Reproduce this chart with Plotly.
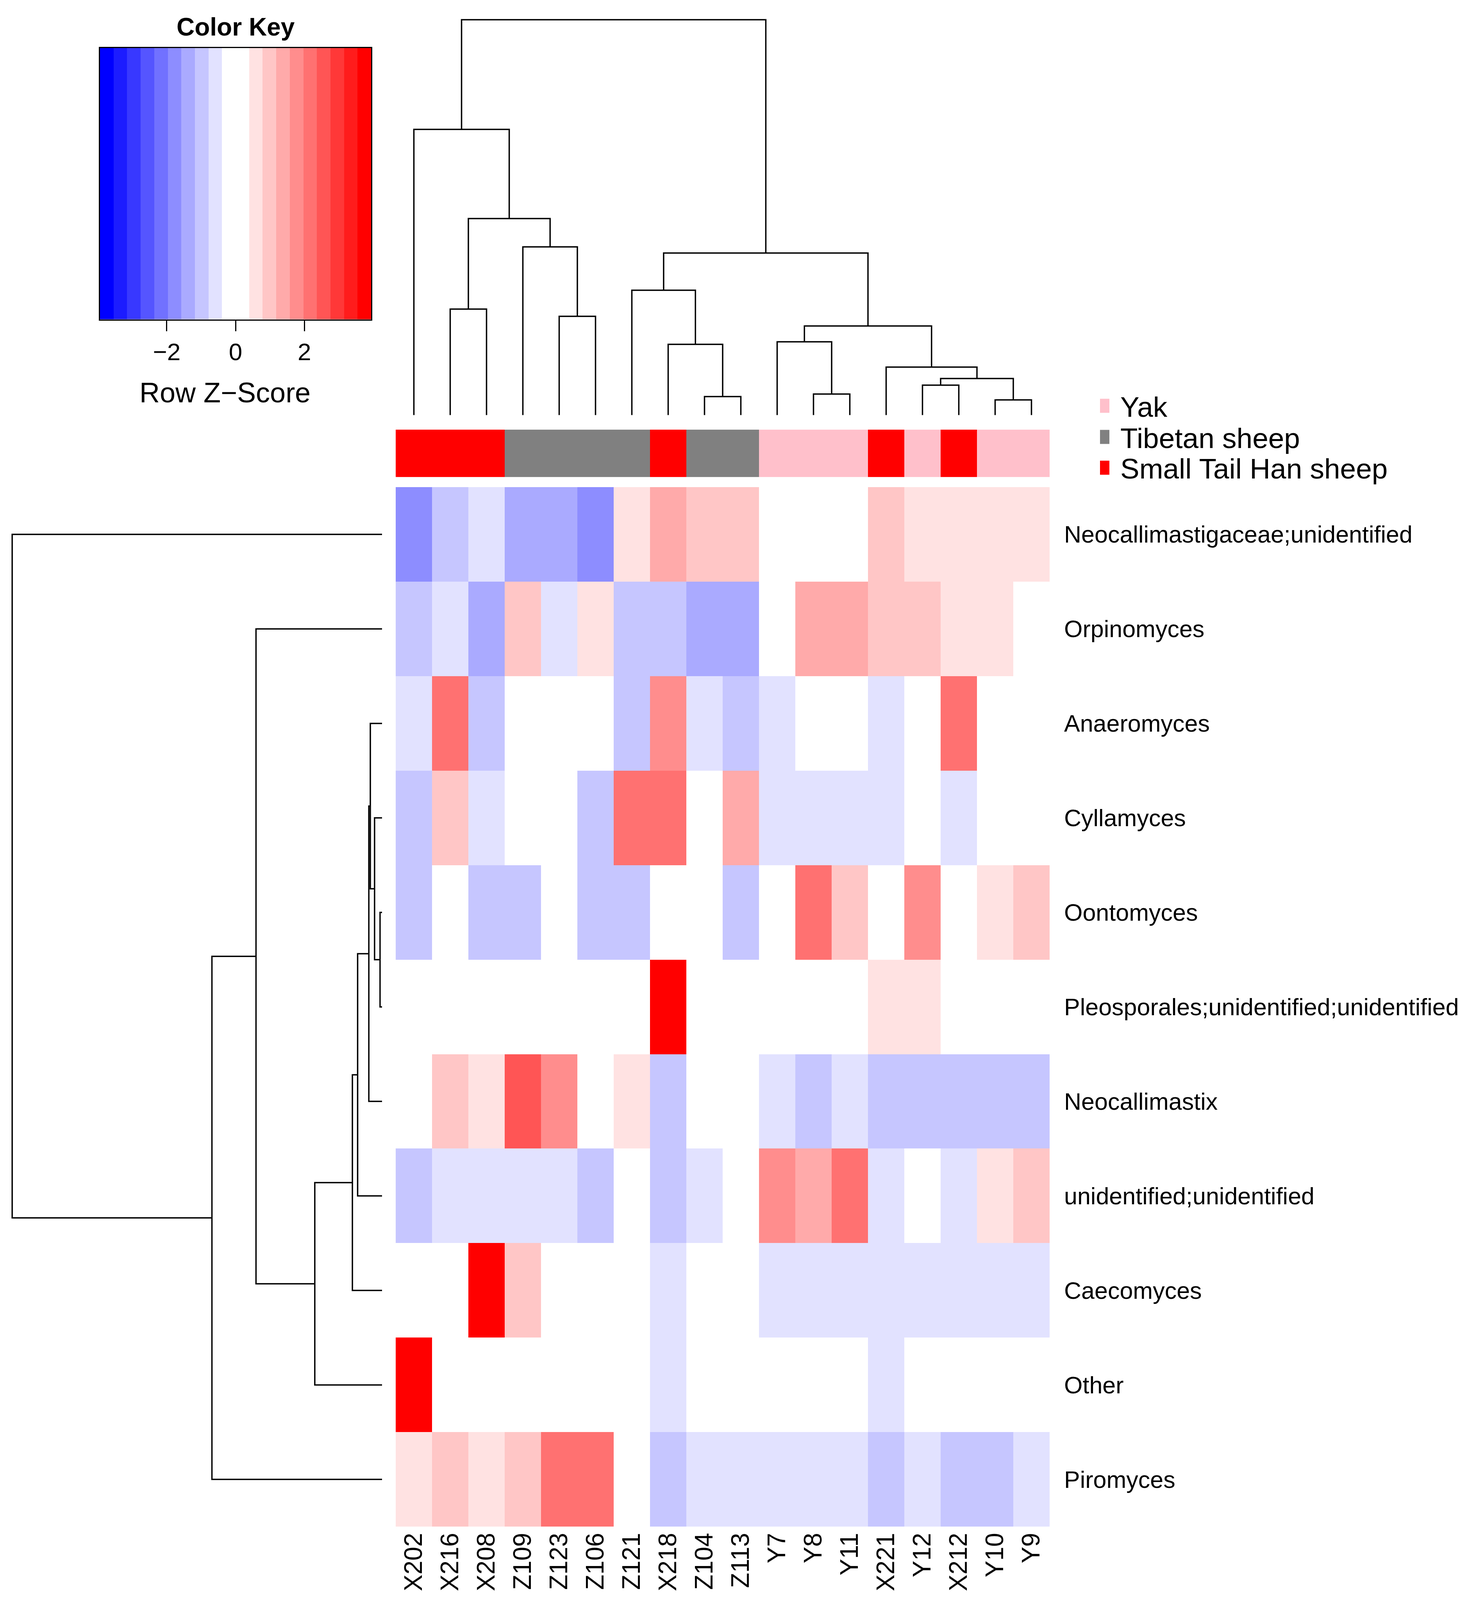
import numpy as np
import plotly.graph_objects as go

# reference geometry (pixels of the 3735 x 4779 reference)
W, REF_H = 3735, 4779
# the browser viewport is capped at 4096 px tall, so the page is laid out at that height
CANVAS_H = 4096
FONT = "Liberation Sans, Arial, Helvetica, sans-serif"

# ---------------- data ----------------
col_names = ["X202", "X216", "X208", "Z109", "Z123", "Z106", "Z121", "X218", "Z104",
             "Z113", "Y7", "Y8", "Y11", "X221", "Y12", "X212", "Y10", "Y9"]
col_groups = ["Small Tail Han sheep", "Small Tail Han sheep", "Small Tail Han sheep",
              "Tibetan sheep", "Tibetan sheep", "Tibetan sheep", "Tibetan sheep",
              "Small Tail Han sheep", "Tibetan sheep", "Tibetan sheep",
              "Yak", "Yak", "Yak", "Small Tail Han sheep", "Yak", "Small Tail Han sheep",
              "Yak", "Yak"]
row_names = ["Neocallimastigaceae;unidentified", "Orpinomyces", "Anaeromyces", "Cyllamyces",
             "Oontomyces", "Pleosporales;unidentified;unidentified", "Neocallimastix",
             "unidentified;unidentified", "Caecomyces", "Other", "Piromyces"]

# row z-scores (rows in display order, columns in display order)
zscores = [
    [-1.75, -0.98, -0.60, -1.38, -1.40, -1.78, 0.55, 1.35, 1.00, 0.98, 0.22, 0.20, 0.21, 0.97, 0.58, 0.60, 0.57, 0.59],
    [-0.95, -0.62, -1.35, 1.02, -0.58, 0.55, -0.99, -0.97, -1.30, -1.33, 0.15, 1.40, 1.38, 1.01, 0.99, 0.60, 0.62, 0.18],
    [-0.62, 2.18, -0.96, -0.10, -0.10, -0.10, -1.00, 1.80, -0.60, -0.98, -0.58, -0.10, -0.10, -0.61, -0.10, 2.20, -0.10, -0.10],
    [-0.98, 0.95, -0.60, -0.20, -0.20, -1.01, 2.15, 2.17, -0.20, 1.36, -0.59, -0.61, -0.60, -0.58, -0.20, -0.62, -0.20, -0.20],
    [-0.99, 0.06, -0.97, -0.96, 0.06, -1.00, -0.98, 0.06, 0.06, -0.99, 0.06, 2.20, 1.02, 0.06, 1.85, 0.06, 0.62, 1.03],
    [-0.33, -0.33, -0.33, -0.33, -0.33, -0.33, -0.33, 3.70, -0.33, -0.33, -0.33, -0.33, -0.33, 0.60, 0.60, -0.33, -0.33, -0.33],
    [-0.09, 1.10, 0.75, 2.70, 1.90, -0.09, 0.75, -0.85, -0.09, -0.09, -0.45, -0.85, -0.45, -0.85, -0.85, -0.85, -0.85, -0.85],
    [-0.98, -0.60, -0.60, -0.60, -0.60, -0.98, 0.07, -1.00, -0.60, 0.07, 1.80, 1.40, 2.20, -0.60, 0.07, -0.60, 0.60, 1.00],
    [0.10, 0.10, 3.70, 1.00, 0.10, 0.10, 0.10, -0.60, 0.10, 0.10, -0.60, -0.60, -0.60, -0.60, -0.60, -0.60, -0.60, -0.60],
    [3.74, -0.17, -0.17, -0.17, -0.17, -0.17, -0.17, -0.59, -0.17, -0.17, -0.17, -0.17, -0.17, -0.59, -0.17, -0.17, -0.17, -0.17],
    [0.65, 1.05, 0.65, 1.05, 2.25, 2.25, -0.25, -0.95, -0.55, -0.55, -0.55, -0.55, -0.55, -0.95, -0.55, -0.95, -0.95, -0.55],
]

# column dendrogram: [merge height, left, right]
col_tree = [1424,
            [1029, "X202",
             [708, [382, "X216", "X208"],
                   [606, "Z109", [356, "Z123", "Z106"]]]],
            [584,
             [450, "Z121", [255, "X218", [67, "Z104", "Z113"]]],
             [321,
              [264, "Y7", [76, "Y8", "Y11"]],
              [173, "X221", [132, [108, "Y12", "X212"], [55, "Y10", "Y9"]]]]]]

# row dendrogram: [merge height, top, bottom]
row_tree = [1485, "Neocallimastigaceae;unidentified",
            [683,
             [506, "Orpinomyces",
              [270,
               [119,
                [98,
                 [53,
                  [47, "Anaeromyces",
                   [30, "Cyllamyces",
                    [8, "Oontomyces", "Pleosporales;unidentified;unidentified"]]],
                  "Neocallimastix"],
                 "unidentified;unidentified"],
                "Caecomyces"],
               "Other"]],
             "Piromyces"]]

group_names = ["Yak", "Tibetan sheep", "Small Tail Han sheep"]
group_colors = ["#FFC0CB", "#808080", "#FF0000"]

key_min, key_max, key_nbins = -3.94, 3.94, 20
key_colors = ["#0000FF", "#1C1CFF", "#3838FF", "#5555FF", "#7171FF", "#8D8DFF", "#AAAAFF",
              "#C6C6FF", "#E2E2FF", "#FFFFFF", "#FFFFFF", "#FFE2E2", "#FFC6C6", "#FFAAAA",
              "#FF8D8D", "#FF7171", "#FF5555", "#FF3838", "#FF1C1C", "#FF0000"]
key_ticks = [-2, 0, 2]


# ---------------- helpers ----------------
def fx(p):
    return p / W


def fy(p):
    return 1 - p / REF_H


def stepped(colors):
    n = len(colors)
    cs = []
    for i, c in enumerate(colors):
        cs.append([i / n, c])
        cs.append([(i + 1) / n, c])
    return cs


def dendro(tree, leaf_pos):
    pos, hgt = [], []

    def rec(node):
        if isinstance(node, str):
            return leaf_pos[node], 0.0
        h, a, b = node
        pa, ha = rec(a)
        pb, hb = rec(b)
        pos.extend([pa, pa, pb, pb, None])
        hgt.extend([ha, h, h, hb, None])
        return (pa + pb) / 2, h

    rec(tree)
    return pos, hgt


heat_cs = stepped(key_colors)
col_idx = list(range(len(col_names)))
row_idx = list(range(len(row_names)))

fig = go.Figure()

# main heatmap
fig.add_trace(go.Heatmap(z=zscores, x=col_idx, y=row_idx, colorscale=heat_cs,
                         zmin=key_min, zmax=key_max, showscale=False,
                         xaxis="x", yaxis="y"))

# column side colours
grp_code = [[group_names.index(g) for g in col_groups]]
fig.add_trace(go.Heatmap(z=grp_code, x=col_idx, y=[0], colorscale=stepped(group_colors),
                         zmin=-0.5, zmax=2.5, showscale=False, xaxis="x", yaxis="y2"))

# column dendrogram
cx, cy = dendro(col_tree, {n: i for i, n in enumerate(col_names)})
fig.add_trace(go.Scatter(x=cx, y=cy, mode="lines", line=dict(color="black", width=3.5),
                         xaxis="x", yaxis="y3", hoverinfo="skip"))

# row dendrogram
ry, rx = dendro(row_tree, {n: i for i, n in enumerate(row_names)})
fig.add_trace(go.Scatter(x=rx, y=ry, mode="lines", line=dict(color="black", width=3.5),
                         xaxis="x2", yaxis="y", hoverinfo="skip"))

# colour key
edges = np.linspace(key_min, key_max, key_nbins + 1)
centers = (edges[:-1] + edges[1:]) / 2
fig.add_trace(go.Heatmap(z=[list(centers)], x=list(centers), y=[0], colorscale=heat_cs,
                         zmin=key_min, zmax=key_max, showscale=False,
                         xaxis="x3", yaxis="y4", hoverinfo="skip"))

hidden = dict(showgrid=False, zeroline=False, showticklabels=False, ticks="", showline=False)

fig.update_layout(
    width=W, height=CANVAS_H, margin=dict(l=0, r=0, t=0, b=0), autosize=False,
    paper_bgcolor="white", plot_bgcolor="white", showlegend=False,
    font=dict(family=FONT, color="black"),
    xaxis=dict(domain=[fx(1013), fx(2687)], range=[-0.5, 17.5], anchor="y",
               tickvals=col_idx, ticktext=col_names, tickangle=-90,
               tickfont=dict(size=64, family=FONT), ticks="", showgrid=False,
               zeroline=False, showline=False, ticklabelstandoff=2),
    yaxis=dict(domain=[fy(4560), fy(1455)], range=[10.5, -0.5], anchor="x", side="right",
               tickvals=row_idx, ticktext=row_names, tickfont=dict(size=61, family=FONT),
               ticks="", showgrid=False, zeroline=False, showline=False,
               ticklabelstandoff=36),
    yaxis2=dict(domain=[fy(1425), fy(1283)], range=[-0.5, 0.5], anchor="x", **hidden),
    yaxis3=dict(domain=[fy(1240), fy(54)], range=[0, 1430], anchor="x", **hidden),
    xaxis2=dict(domain=[fx(28), fx(978)], range=[1490, 0], anchor="y", **hidden),
    xaxis3=dict(domain=[fx(256), fx(950)], range=[key_min, key_max], anchor="y4",
                tickvals=key_ticks, ticktext=["\u22122", "0", "2"], ticks="outside",
                ticklen=27, tickwidth=3, tickcolor="black",
                tickfont=dict(size=62, family=FONT), showline=True, linewidth=3,
                linecolor="black", mirror=True, showgrid=False, zeroline=False),
    yaxis4=dict(domain=[fy(954), fy(143)], range=[-0.5, 0.5], anchor="x3",
                showline=True, linewidth=3, linecolor="black", mirror=True,
                showgrid=False, zeroline=False, showticklabels=False, ticks=""),
)

annotations = [
    dict(text="<b>Color Key</b>", x=fx(603), y=fy(80), xref="paper", yref="paper",
         xanchor="center", yanchor="middle", showarrow=False, font=dict(size=64, family=FONT)),
    dict(text="Row Z\u2212Score", x=fx(576), y=fy(1172), xref="paper", yref="paper",
         xanchor="center", yanchor="middle", showarrow=False, font=dict(size=72, family=FONT)),
]
shapes = []
legend_y = [1212, 1305, 1397]
for name, color, yc in zip(group_names, group_colors, legend_y):
    shapes.append(dict(type="rect", xref="paper", yref="paper", x0=fx(2816), x1=fx(2840),
                       y0=fy(yc + 21), y1=fy(yc - 21), fillcolor=color, line=dict(width=0)))
    annotations.append(dict(text=name, x=fx(2866), y=fy(yc + 3), xref="paper", yref="paper",
                            xanchor="left", yanchor="middle", showarrow=False,
                            font=dict(size=73, family=FONT)))

fig.update_layout(annotations=annotations, shapes=shapes)

page_css = ("document.documentElement.style.margin='0';"
            "document.body.style.margin='0';"
            "document.body.style.overflow='hidden';")
fig.write_html("out.html", post_script=page_css, config={"displayModeBar": False})
